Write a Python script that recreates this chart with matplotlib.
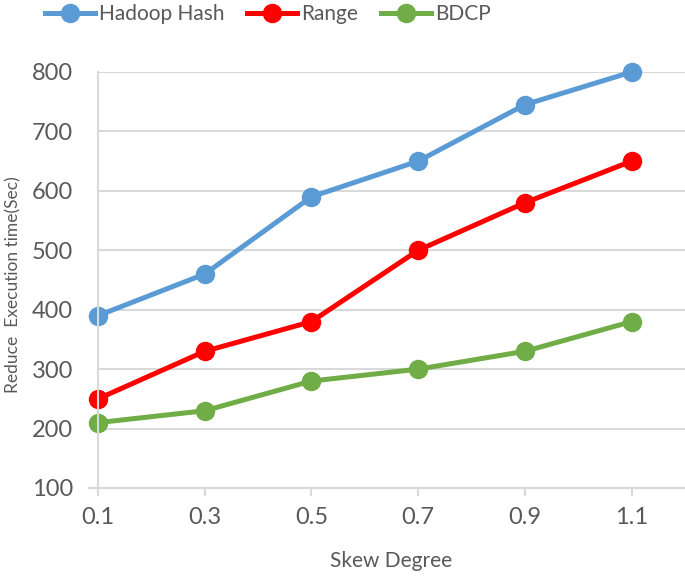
import numpy as np
import matplotlib.pyplot as plt

plt.rcParams['font.family'] = ['Lato', 'DejaVu Sans']

skew = ['0.1', '0.3', '0.5', '0.7', '0.9', '1.1']
hadoop = [390, 460, 590, 650, 745, 800]
rng = [250, 330, 380, 500, 580, 650]
bdcp = [210, 230, 280, 300, 330, 380]

blue = '#5b9bd5'
red = '#ff0000'
green = '#70ad47'
grid = '#d9d9d9'
text = '#595959'

fig = plt.figure(figsize=(6.85, 5.77), dpi=100)
ax = fig.add_axes([98 / 685, 1 - 488 / 577, 1 - 98 / 685, (488 - 72) / 577])

x = np.arange(len(skew))
for y, c, lab in [(hadoop, blue, 'Hadoop Hash'), (rng, red, 'Range'), (bdcp, green, 'BDCP')]:
    ax.plot(x, y, color=c, lw=3.6, marker='o', ms=13, label=lab, clip_on=False)

ax.set_xlim(0, 5.5)
ax.set_ylim(100, 800)
ax.set_yticks(np.arange(100, 801, 100))
ax.set_xticks(x)
ax.set_xticklabels(skew)
ax.yaxis.grid(True, color=grid, lw=1.5)
ax.set_axisbelow(True)
for s in ['top', 'right', 'bottom']:
    ax.spines[s].set_visible(False)
ax.spines['left'].set_color(grid)
ax.spines['left'].set_linewidth(1.5)
ax.axhline(100, color=grid, lw=1.5, zorder=0, xmin=-0.015, clip_on=False)
ax.tick_params(axis='y', length=0, labelsize=17, labelcolor=text, pad=18)
ax.tick_params(axis='x', length=6, color=grid, width=1.5, labelsize=17, labelcolor=text, pad=8)

ax.set_xlabel('Skew Degree', fontsize=15, color=text, labelpad=16)
fig.text(0.008, 1 - 285 / 577, 'Reduce  Execution time(Sec)', rotation=90, fontsize=12.5,
         color=text, ha='left', va='center')

fig.legend(loc='center', bbox_to_anchor=(268 / 685, 1 - 14 / 577), ncol=3,
           frameon=False, fontsize=15, labelcolor=text, handlelength=2.4,
           columnspacing=1.1, handletextpad=0.2, borderpad=0)

fig.savefig('out.png', dpi=100)
